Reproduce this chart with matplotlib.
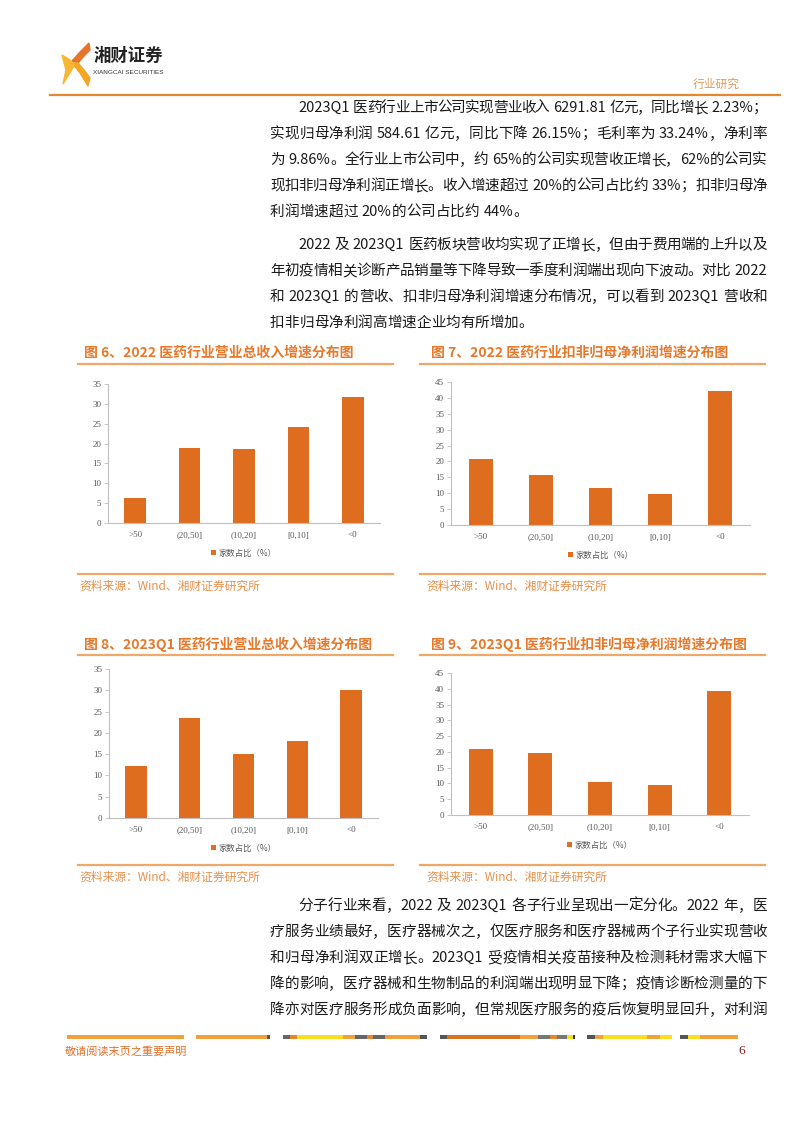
"""
Report page: four bar charts of growth-rate distribution with body text.
"""
import re
import matplotlib
matplotlib.use('Agg')
import matplotlib.pyplot as plt
from matplotlib.patches import Polygon, Rectangle
from matplotlib.lines import Line2D

plt.rcParams['font.family'] = ['Noto Sans CJK SC', 'DejaVu Sans']

W, H = 802, 1133

# ---- data -------------------------------------------------------------
categories = ['>50', '(20,50]', '(10,20]', '[0,10]', '<0']
rev_2022 = [6.3, 18.9, 18.6, 24.2, 31.7]
profit_2022 = [20.9, 15.7, 11.8, 9.6, 42.2]
rev_2023q1 = [12.3, 23.6, 15.1, 18.2, 30.0]
profit_2023q1 = [20.8, 19.7, 10.5, 9.6, 39.3]
legend_label = '家数占比（%）'

titles = ['图 6、2022 医药行业营业总收入增速分布图',
          '图 7、2022 医药行业扣非归母净利润增速分布图',
          '图 8、2023Q1 医药行业营业总收入增速分布图',
          '图 9、2023Q1 医药行业扣非归母净利润增速分布图']
source = '资料来源：Wind、湘财证券研究所'

para1 = ['2023Q1 医药行业上市公司实现营业收入 6291.81 亿元，同比增长 2.23%；',
         '实现归母净利润 584.61 亿元，同比下降 26.15%；毛利率为 33.24%，净利率',
         '为 9.86%。全行业上市公司中，约 65%的公司实现营收正增长，62%的公司实',
         '现扣非归母净利润正增长。收入增速超过 20%的公司占比约 33%；扣非归母净',
         '利润增速超过 20%的公司占比约 44%。']
para2 = ['2022 及 2023Q1 医药板块营收均实现了正增长，但由于费用端的上升以及',
         '年初疫情相关诊断产品销量等下降导致一季度利润端出现向下波动。对比 2022',
         '和 2023Q1 的营收、扣非归母净利润增速分布情况，可以看到 2023Q1 营收和',
         '扣非归母净利润高增速企业均有所增加。']
para3 = ['分子行业来看，2022 及 2023Q1 各子行业呈现出一定分化。2022 年，医',
         '疗服务业绩最好，医疗器械次之，仅医疗服务和医疗器械两个子行业实现营收',
         '和归母净利润双正增长。2023Q1 受疫情相关疫苗接种及检测耗材需求大幅下',
         '降的影响，医疗器械和生物制品的利润端出现明显下降；疫情诊断检测量的下',
         '降亦对医疗服务形成负面影响，但常规医疗服务的疫后恢复明显回升，对利润']

BAR = '#DF6D1F'
ORANGE = '#E8782A'
LINE = '#F0A868'
TICK = '#595959'

fig = plt.figure(figsize=(W / 100, H / 100), dpi=100)
renderer = fig.canvas.get_renderer()


def fx(x):
    return x / W


def fy(y):
    return 1 - y / H


def hline(x0, x1, y, color, lw):
    fig.add_artist(Line2D([fx(x0), fx(x1)], [fy(y), fy(y)], color=color,
                          lw=lw, transform=fig.transFigure))


def put_line(text, x0, x1, y, size=10.5, justify=True, color='#1a1a1a'):
    """Lay out one line of mixed CJK/latin text, justified between x0 and x1."""
    tokens = re.findall(r'[A-Za-z0-9.%]+| |.', text)
    items = []
    for t in tokens:
        if t == ' ':
            items.append((None, size * 100 / 72 * 0.28))
            continue
        a = fig.text(0, fy(y), t, fontsize=size, color=color, va='center')
        w = a.get_window_extent(renderer).width
        items.append((a, w))
    total = sum(w for _, w in items)
    n_gaps = max(len([i for i in items if i[0] is not None]) - 1, 1)
    extra = (x1 - x0 - total) / n_gaps if justify else 0.0
    x = x0
    first = True
    for a, w in items:
        if a is None:
            x += w
            continue
        if not first:
            x += extra
        a.set_x(fx(x))
        x += w
        first = False


def put_para(lines, ys, indent=298, left=270, right=767):
    for i, (t, y) in enumerate(zip(lines, ys)):
        x0 = indent if i == 0 else left
        put_line(t, x0, right, y, justify=(i < len(lines) - 1))


# ---- header -----------------------------------------------------------
fig.add_artist(Polygon([(fx(89), fy(43)), (fx(80), fy(52)), (fx(72), fy(61)),
                        (fx(78), fy(63)), (fx(84), fy(56)), (fx(90), fy(50))],
                       closed=True, color='#E8742A', transform=fig.transFigure))
fig.add_artist(Polygon([(fx(72), fy(63)), (fx(80), fy(73)), (fx(88), fy(86)),
                        (fx(90), fy(78)), (fx(84), fy(70)), (fx(78), fy(63))],
                       closed=True, color='#F5A623', transform=fig.transFigure))
fig.add_artist(Polygon([(fx(62), fy(55)), (fx(70), fy(60)), (fx(74), fy(66)),
                        (fx(68), fy(76)), (fx(63), fy(84)), (fx(66), fy(70))],
                       closed=True, color='#F7B733', transform=fig.transFigure))
fig.text(fx(93), fy(56), '湘财证券', fontsize=12.5, weight='bold',
         color='#222222', va='center')
fig.text(fx(93), fy(72), 'XIANGCAI SECURITIES', fontsize=4.6,
         family='Liberation Sans', color='#333333', va='center')
fig.text(fx(740), fy(84), '行业研究', fontsize=8.5, color='#E39A5B',
         ha='right', va='center')
hline(50, 780, 95, '#E8862E', 1.6)

# ---- body text --------------------------------------------------------
put_para(para1, [108, 134, 160, 186, 212])
put_para(para2, [245, 271, 297, 323])
put_para(para3, [906, 932, 958, 984, 1010])


# ---- charts -----------------------------------------------------------
def bar_chart(box, values, ymax, title, title_x, title_y, rule, src_y):
    l, t, r, b = box
    ax = fig.add_axes([fx(l), fy(b), fx(r - l), (b - t) / H])
    ax.bar(range(len(categories)), values, width=0.4, color=BAR,
           label=legend_label)
    ax.set_xlim(-0.5, len(categories) - 0.5)
    ax.set_ylim(0, ymax)
    ax.set_yticks(range(0, ymax + 1, 5))
    ax.set_xticks(range(len(categories)))
    ax.set_xticklabels(categories)
    for s in ('top', 'right'):
        ax.spines[s].set_visible(False)
    for s in ('left', 'bottom'):
        ax.spines[s].set_color('#BFBFBF')
        ax.spines[s].set_linewidth(0.8)
    ax.tick_params(axis='y', length=3, width=0.6, color='#BFBFBF', pad=2,
                   labelsize=6.5, labelcolor=TICK)
    ax.tick_params(axis='x', length=0, pad=6, labelsize=6.5, labelcolor=TICK)
    for lab in ax.get_xticklabels() + ax.get_yticklabels():
        lab.set_family('Liberation Serif')
    leg_y = -(30 / (b - t))
    ax.legend(loc='center', bbox_to_anchor=(0.5, leg_y), frameon=False,
              fontsize=6, handlelength=0.6, handleheight=0.6,
              handletextpad=0.3, labelcolor=TICK)
    fig.text(fx(title_x), fy(title_y), title, fontsize=10, weight='bold',
             color=ORANGE, va='center')
    hline(rule[0], rule[1], title_y + 11, LINE, 1.6)
    hline(rule[0], rule[1], src_y, LINE, 1.6)
    fig.text(fx(title_x - 5), fy(src_y + 12), source, fontsize=8.5,
             color='#E8904A', va='center')
    return ax


bar_chart((108, 384, 380, 523), rev_2022, 35, titles[0], 84, 353,
          (78, 393), 574)
bar_chart((451, 382, 750, 525), profit_2022, 45, titles[1], 431, 353,
          (420, 765), 574)
bar_chart((109, 669, 378, 818), rev_2023q1, 35, titles[2], 84, 644,
          (78, 393), 865)
bar_chart((451, 673, 749, 815), profit_2023q1, 45, titles[3], 431, 644,
          (420, 765), 865)

# ---- footer -----------------------------------------------------------
stripe = [(67, 184, '#F2A13A'), (196, 267, '#F2A13A'), (267, 270, '#555555'),
          (283, 290, '#666666'), (290, 297, '#E8862E'), (297, 343, '#F8E020'),
          (343, 355, '#F2A13A'), (355, 367, '#666666'), (367, 373, '#E8862E'),
          (373, 385, '#666666'), (385, 420, '#F2A13A'), (420, 427, '#555555'),
          (440, 447, '#555555'), (447, 520, '#D8731F'), (520, 538, '#F2A13A'),
          (538, 550, '#777777'), (550, 557, '#E8862E'), (557, 567, '#777777'),
          (567, 573, '#F8E020'), (573, 575, '#333333'), (587, 595, '#555555'),
          (595, 603, '#F2A13A'), (603, 647, '#F8E020'), (647, 660, '#F2A13A'),
          (660, 672, '#F8E020'), (680, 688, '#555555'), (688, 700, '#F8E020'),
          (700, 738, '#F2A13A')]
for x0, x1, c in stripe:
    fig.add_artist(Rectangle((fx(x0), fy(1039)), fx(x1 - x0), 4 / H,
                             color=c, lw=0, transform=fig.transFigure))
fig.text(fx(65), fy(1051), '敬请阅读末页之重要声明', fontsize=8,
         color='#E0702A', va='center')
fig.text(fx(745), fy(1051), '6', fontsize=9.5, family='Liberation Serif',
         color='#8B1A1A', ha='right', va='center')

fig.savefig('out.png', dpi=100, facecolor='white')
